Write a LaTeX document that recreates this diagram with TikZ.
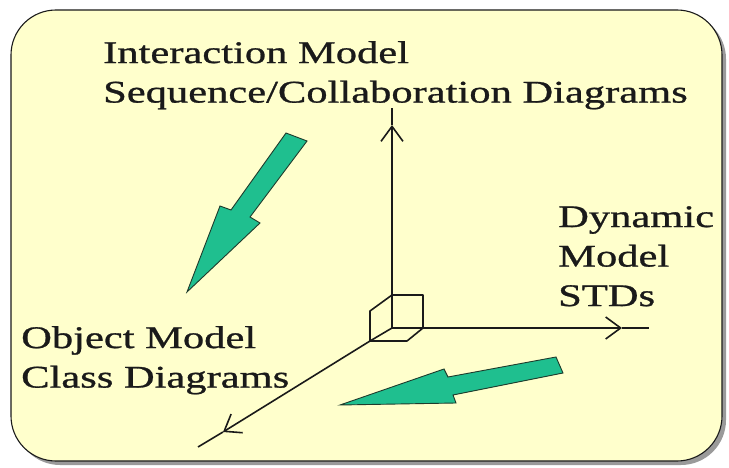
\documentclass[tikz,border=0pt]{standalone}
\usepackage{fontspec}
\setmainfont[FakeStretch=1.35,FakeBold=0.9]{Liberation Serif}
\usetikzlibrary{arrows.meta,positioning}
\definecolor{omInk}{HTML}{1A1A1A}
\definecolor{omPaper}{HTML}{FFFFCC}
\definecolor{omShade}{HTML}{9A9A9A}
\definecolor{omGreen}{HTML}{1FBF8F}
\definecolor{omEdge}{HTML}{1E3B2C}
\tikzset{
  panel/.style   ={draw=omInk,line width=1.1pt,fill=omPaper,rounded corners=45pt},
  shade/.style   ={fill=omShade,rounded corners=45pt},
  lbl/.style     ={font=\fontsize{31.5}{39.5}\selectfont,text=omInk,align=left,
                   anchor=north west,inner sep=0pt},
  axis/.style    ={omInk,line width=1.6pt},
  axtip/.style   ={axis,-{Straight Barb[length=15pt,width=22pt,line width=1.6pt]}},
  cube/.style    ={omInk,line width=1.6pt,line join=round},
  bigarrow/.style={fill=omGreen,draw=omEdge,line width=0.9pt,line join=miter},
}
\begin{document}
\begin{tikzpicture}[x=1pt,y=-1pt]
\useasboundingbox (0,0) rectangle (729,468);
% panel with its shadow
\fill[shade] (15,14) rectangle (726,465);
\draw[panel] (11,10) rectangle (722,461);

% labels
\node[lbl] (inter) at (103,41) {Interaction Model\\Sequence/Collaboration Diagrams};
\node[lbl] (dyn)   at (558,206) {Dynamic\\Model\\STDs};
\node[lbl] (obj)   at (21,326)  {Object Model\\Class Diagrams};

% cube at the origin
\coordinate (o)  at (392,328);
\coordinate (cA) at (392,295);
\coordinate (cB) at (423,295);
\coordinate (cC) at (423,328);
\coordinate (cA') at (370,311);
\coordinate (cD') at (370,341);
\coordinate (cC') at (407,341);
\draw[cube] (cA) rectangle (cC);
\draw[cube] (cA) -- (cA') -- (cD') -- (cC') -- (cC);
\draw[cube] (o) -- (cD');

% axes (the tip sits short of the line end)
\coordinate (vApex) at (392,125);
\coordinate (vEnd)  at (392,108);
\coordinate (hApex) at (622,328);
\coordinate (hEnd)  at (649,328);
\coordinate (dApex) at (223,432);
\coordinate (dEnd)  at (198,447);
\draw[axtip] (cA) -- (vApex);
\draw[axis]  (vApex) -- (vEnd);
\draw[axtip] (cC) -- (hApex);
\draw[axis]  (hApex) -- (hEnd);
\draw[axtip] (cD') -- (dApex);
\draw[axis]  (dApex) -- (dEnd);

% green block arrows
\draw[bigarrow] (286,133) -- (307,141) -- (250,217) -- (260,223)
  -- (187,292) -- (220,206) -- (231,210) -- cycle;
\draw[bigarrow] (556,357) -- (563,373) -- (453,395) -- (456,403)
  -- (340,405) -- (444,369) -- (448,377) -- cycle;
\end{tikzpicture}
\end{document}
